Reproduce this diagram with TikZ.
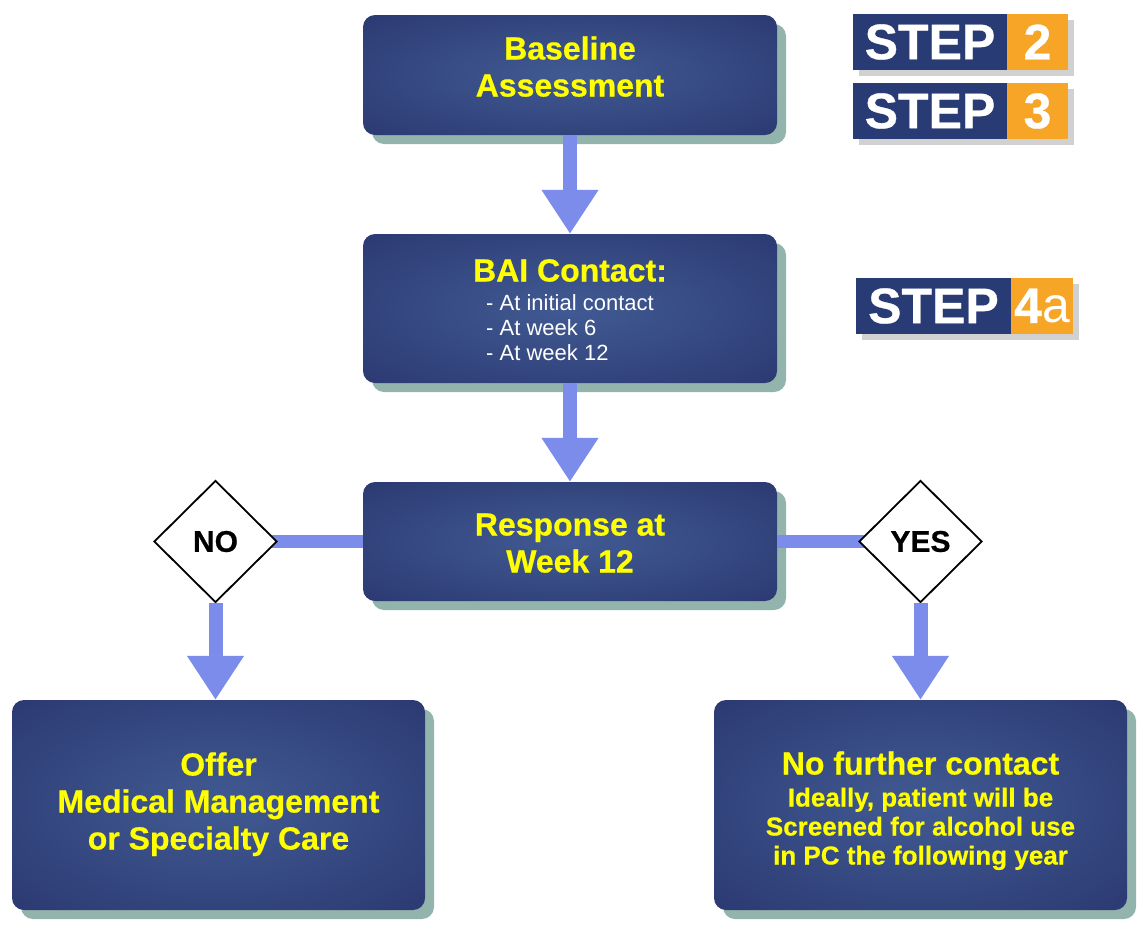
\documentclass[tikz,border=0pt]{standalone}
\usepackage{fontspec}
\setmainfont{Liberation Sans}[BoldFeatures={FakeBold=0.6}]
\usetikzlibrary{shapes.geometric,arrows.meta,shadows}
\definecolor{boxlight}{HTML}{415A93}
\definecolor{boxdark}{HTML}{232C64}
\definecolor{arrowc}{HTML}{7B8CEA}
\definecolor{shadowc}{HTML}{6F9A92}
\definecolor{stepblue}{HTML}{283B75}
\definecolor{steporange}{HTML}{F6A526}
\definecolor{txtyellow}{HTML}{FFFF00}
\pgfdeclareradialshading{boxshade}{\pgfpoint{0bp}{0bp}}{color(0bp)=(boxlight); color(50bp)=(boxdark); color(72bp)=(boxdark)}
\tikzset{
  flowbox/.style={rounded corners=12pt, shading=boxshade,
    text=txtyellow, font=\bfseries\fontsize{32}{37}\selectfont, inner sep=0pt,
    minimum width=414pt, text height=0pt,
    drop shadow={shadow xshift=9pt, shadow yshift=-9pt, fill=shadowc, opacity=0.75}},
  flowarrow/.style={draw=arrowc, line width=14pt, -{Triangle[width=54pt,length=44pt]}},
  flowline/.style={draw=arrowc, line width=13pt},
  decision/.style={diamond, draw=black, line width=1.8pt, fill=white, inner sep=0pt,
    minimum width=123pt, minimum height=122pt, font=\bfseries\fontsize{30}{34}\selectfont},
  stepshadow/.style={drop shadow={shadow xshift=6pt, shadow yshift=-6pt, fill=black, opacity=0.18}},
  stepleft/.style={fill=stepblue, text=white, inner sep=0pt, minimum height=56pt,
    font=\bfseries\fontsize{50}{52}\selectfont, stepshadow},
  stepright/.style={fill=steporange, text=white, inner sep=0pt, minimum height=56pt,
    font=\bfseries\fontsize{50}{52}\selectfont, stepshadow}
}
\begin{document}
\begin{tikzpicture}[x=1pt,y=-1pt]
\useasboundingbox (0,0) rectangle (1144,927);
% boxes
\node[flowbox, minimum height=120pt, text depth=31pt] (base) at (570,75)
  {\begin{tabular}[t]{@{}c@{}}Baseline\\Assessment\end{tabular}};
\node[flowbox, minimum height=149pt, text depth=54pt] (bai) at (570,308.5)
  {\begin{tabular}[t]{@{}c@{}}BAI Contact:\\[-8.5pt]
  {\color{white}\mdseries\fontsize{22}{25}\selectfont\begin{tabular}[t]{@{}l@{}}- At initial contact\\- At week 6\\- At week 12\end{tabular}}\end{tabular}};
\node[flowbox, minimum height=119pt, text depth=12pt] (resp) at (570,541.5)
  {\begin{tabular}[t]{@{}c@{}}Response at\\Week 12\end{tabular}};
\node[flowbox, minimum width=413pt, minimum height=210pt, text depth=59pt] (offer) at (218.5,805)
  {\begin{tabular}[t]{@{}c@{}}Offer\\Medical Management\\or Specialty Care\end{tabular}};
\node[flowbox, minimum width=413pt, minimum height=210pt, text depth=61pt] (nofurther) at (920.5,805)
  {\begin{tabular}[t]{@{}c@{}}No further contact\\[-5pt]
  {\fontsize{26}{29}\selectfont\begin{tabular}[t]{@{}c@{}}Ideally, patient will be\\Screened for alcohol use\\in PC the following year\end{tabular}}\end{tabular}};
% connectors
\draw[flowarrow] (base.south) -- (bai.north);
\draw[flowarrow] (bai.south) -- (resp.north);
\coordinate (noc) at (215.5,541.5);
\coordinate (yesc) at (920.5,541.5);
\draw[flowline] (noc) -- (resp.west);
\draw[flowline] (resp.east) -- (yesc);
\node[decision] (no) at (noc) {NO};
\node[decision] (yes) at (yesc) {YES};
\draw[flowarrow] (no.south) -- (no.south |- offer.north);
\draw[flowarrow] (yes.south) -- (yes.south |- nofurther.north);
% step badges
\node[stepleft, minimum width=154pt] (s2l) at (930,42) {STEP};
\node[stepright, minimum width=61pt] (s2r) at (1037.5,42) {2};
\node[stepleft, minimum width=154pt] (s3l) at (930,111) {STEP};
\node[stepright, minimum width=61pt] (s3r) at (1037.5,111) {3};
\node[stepleft, minimum width=155pt] (s4l) at (933.5,306) {STEP};
\node[stepright, minimum width=62pt] (s4r) at (1042,306) {4{\mdseries a}};
\end{tikzpicture}
\end{document}
